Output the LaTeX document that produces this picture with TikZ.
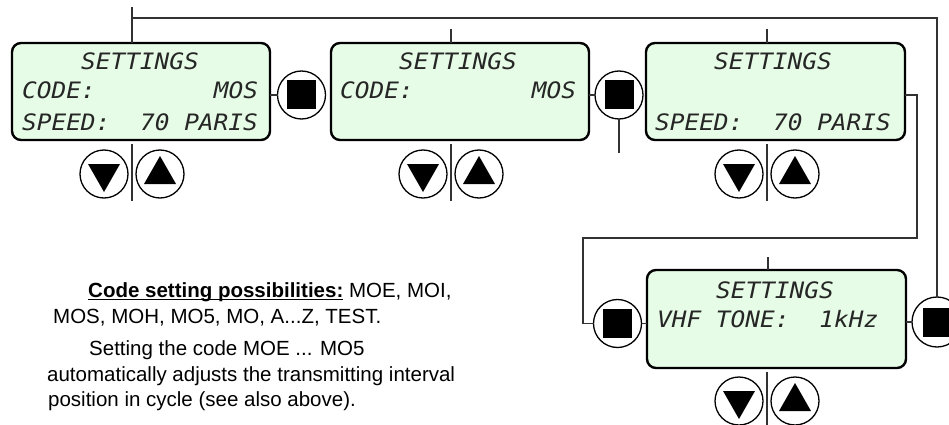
\documentclass[tikz,border=0pt]{standalone}
\usepackage{fontspec}
\setmainfont{Liberation Sans}
\newfontfamily\notefont{Liberation Sans}
\newfontfamily\lcdfont[FakeStretch=1.08]{DejaVu Sans Mono}
\definecolor{lcdgreen}{RGB}{230,252,230}
\definecolor{wire}{RGB}{50,50,50}
\newcommand\myul[1]{\setbox0\hbox{#1}\rlap{\rule[-3pt]{\wd0}{1.4pt}}\box0\relax}
\begin{document}
\begin{tikzpicture}[x=1pt,y=-1pt,
  lcdbox/.style={draw=black,line width=2.4pt,fill=lcdgreen,rounded corners=9pt,inner sep=0pt,outer sep=0pt},
  lcdtext/.style={anchor=base west,inner sep=0pt,font=\lcdfont\itshape\fontsize{22.6}{26}\selectfont,text=black!85},
  btn/.style={circle,draw=black,line width=1.3pt,fill=white,minimum size=48pt,inner sep=0pt,outer sep=0pt},
  sqbtn/.style={btn,path picture={\fill[black] ([shift={(-14.5pt,-14.5pt)}]path picture bounding box.center) rectangle ([shift={(14.5pt,14.5pt)}]path picture bounding box.center);}},
  downbtn/.style={btn,path picture={\fill[black] ([shift={(-16pt,10pt)}]path picture bounding box.center) -- ([shift={(16pt,10pt)}]path picture bounding box.center) -- ([shift={(0pt,-18pt)}]path picture bounding box.center) -- cycle;}},
  upbtn/.style={btn,path picture={\fill[black] ([shift={(-16pt,-10pt)}]path picture bounding box.center) -- ([shift={(16pt,-10pt)}]path picture bounding box.center) -- ([shift={(0pt,18pt)}]path picture bounding box.center) -- cycle;}},
  conn/.style={draw=wire,line width=1.4pt},
  note/.style={anchor=base west,inner sep=0pt,font=\notefont\fontsize{20.5}{24}\selectfont}
]
\useasboundingbox (0,0) rectangle (949,425);

% ---- connector points
\coordinate (v1top) at (132,7);
\coordinate (h1) at (132,18);
\coordinate (h2) at (937,18);
\coordinate (st2) at (451,29);
\coordinate (st3) at (767,29);
\coordinate (st4) at (768,257);
\coordinate (r1) at (917,95);
\coordinate (r2) at (917,238);
\coordinate (r3) at (583,238);
\coordinate (r4) at (583,323.5);
\coordinate (l1a) at (132,144);
\coordinate (l1b) at (132,201);
\coordinate (l2a) at (451,144);
\coordinate (l2b) at (451,201);
\coordinate (l3a) at (767,144);
\coordinate (l3b) at (767,201);
\coordinate (l4a) at (767,372);
\coordinate (l4b) at (767,426);
\coordinate (s2end) at (619,153);

% ---- boxes
\node[lcdbox,minimum width=258pt,minimum height=97pt] (b1) at (141,91.5) {};
\node[lcdbox,minimum width=258pt,minimum height=97pt] (b2) at (460,91.5) {};
\node[lcdbox,minimum width=259pt,minimum height=97pt] (b3) at (775.5,91.5) {};
\node[lcdbox,minimum width=259pt,minimum height=98pt] (b4) at (776.5,319) {};

% ---- buttons
\node[sqbtn] (s1) at (301.5,95) {};
\node[sqbtn] (s2) at (619,95) {};
\node[sqbtn] (s4l) at (617.5,323.5) {};
\node[sqbtn,minimum size=50pt] (s4r) at (937,322) {};

\node[downbtn] (d1) at (104,174) {};
\node[upbtn] (u1) at (160,174) {};
\node[downbtn] (d2) at (423,174) {};
\node[upbtn] (u2) at (479,174) {};
\node[downbtn] (d3) at (739,174) {};
\node[upbtn] (u3) at (795,174) {};
\node[downbtn] (d4) at (739,401) {};
\node[upbtn] (u4) at (795,401) {};

% ---- wires
\draw[conn] (v1top) -- (v1top |- b1.north);
\draw[conn] (h1) -- (h2) -- (s4r.north);
\draw[conn] (st2) -- (st2 |- b2.north);
\draw[conn] (st3) -- (st3 |- b3.north);
\draw[conn] (st4) -- (st4 |- b4.north);
\draw[conn] (l1a) -- (l1b);
\draw[conn] (l2a) -- (l2b);
\draw[conn] (l3a) -- (l3b);
\draw[conn] (l4a) -- (l4b);
\draw[conn] (s1.west -| b1.east) -- (s1.west);
\draw[conn] (s2.west -| b2.east) -- (s2.west);
\draw[conn] (s2.south) -- (s2end);
\draw[conn] (r1 -| b3.east) -- (r1) -- (r2) -- (r3) -- (r4) -- (s4l.west);
\draw[conn] (s4l.east) -- (s4l.east -| b4.west);
\draw[conn] (b4.east |- s4r.west) -- (s4r.west);

% ---- LCD texts
\node[lcdtext] (t1a) at (81,70) {SETTINGS};
\node[lcdtext] (t1b) at (22,99) {CODE:};
\node[lcdtext] (t1c) at (213.75,99) {MOS};
\node[lcdtext] (t1d) at (22,130) {SPEED:};
\node[lcdtext] (t1e) at (140,130) {70 PARIS};

\node[lcdtext] (t2a) at (399,70) {SETTINGS};
\node[lcdtext] (t2b) at (340,99) {CODE:};
\node[lcdtext] (t2c) at (531.75,99) {MOS};

\node[lcdtext] (t3a) at (714,70) {SETTINGS};
\node[lcdtext] (t3b) at (655,130) {SPEED:};
\node[lcdtext] (t3c) at (773,130) {70 PARIS};

\node[lcdtext] (t4a) at (716,298) {SETTINGS};
\node[lcdtext] (t4b) at (657,327) {VHF TONE:};
\node[lcdtext] (t4c) at (819.25,327) {1kHz};

% ---- notes
\node[note] (n1) at (88,297) {\myul{\textbf{Code setting possibilities:}} MOE, MOI,};
\node[note] (n2) at (53,323) {MOS, MOH, MO5, MO, A...Z, TEST.};
\node[note] (n3) at (89,355) {Setting the code MOE ... MO5};
\node[note] (n4) at (47,381) {automatically adjusts the transmitting interval};
\node[note] (n5) at (48,406) {position in cycle (see also above).};
\end{tikzpicture}
\end{document}
